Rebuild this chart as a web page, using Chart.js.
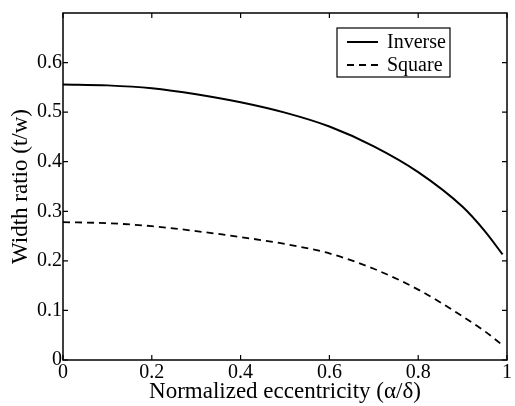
<!DOCTYPE html>
<html>
<head>
<meta charset="utf-8">
<script src="https://cdn.jsdelivr.net/npm/chart.js@4"></script>
<style>
  html, body { margin: 0; padding: 0; background: #fff; }
  #wrap { width: 515px; height: 406px; }
</style>
</head>
<body>
<div id="wrap"><canvas id="widthChart"></canvas></div>
<script>
// eccentricity samples and width ratios for the two loadings
const ecc     = [0, 0.1, 0.2, 0.3, 0.4, 0.5, 0.6, 0.7, 0.8, 0.9, 0.95, 0.99];
const inverse = [0.556, 0.554, 0.548, 0.536, 0.520, 0.499, 0.471, 0.431, 0.379, 0.309, 0.260, 0.213];
const square  = [0.278, 0.276, 0.270, 0.260, 0.248, 0.234, 0.215, 0.184, 0.142, 0.088, 0.058, 0.030];
const xTicks  = [0, 0.2, 0.4, 0.6, 0.8, 1];
const yTicks  = [0, 0.1, 0.2, 0.3, 0.4, 0.5, 0.6];

const serif = "'Liberation Serif', 'Times New Roman', serif";
const pts = ys => ecc.map((x, i) => ({ x: x, y: ys[i] }));

// box round the plot, inward ticks on all sides, boxed legend
const frame = {
  id: 'frame',
  afterDraw(chart) {
    const { ctx, chartArea: a, scales } = chart;
    ctx.save();
    ctx.strokeStyle = '#000';
    ctx.lineWidth = 1.5;
    ctx.strokeRect(a.left, a.top, a.right - a.left, a.bottom - a.top);
    ctx.lineWidth = 1.2;
    ctx.beginPath();
    xTicks.forEach(v => {
      const px = scales.x.getPixelForValue(v);
      ctx.moveTo(px, a.bottom); ctx.lineTo(px, a.bottom - 5);
      ctx.moveTo(px, a.top);    ctx.lineTo(px, a.top + 5);
    });
    yTicks.forEach(v => {
      const py = scales.y.getPixelForValue(v);
      ctx.moveTo(a.left, py);  ctx.lineTo(a.left + 5, py);
      ctx.moveTo(a.right, py); ctx.lineTo(a.right - 5, py);
    });
    ctx.stroke();

    // legend
    const lx = 337, ly = 28, lw = 113, lh = 49;
    ctx.fillStyle = '#fff';
    ctx.fillRect(lx, ly, lw, lh);
    ctx.lineWidth = 1.2;
    ctx.strokeRect(lx, ly, lw, lh);
    chart.data.datasets.forEach((ds, i) => {
      const y = ly + 14 + i * 23;
      ctx.setLineDash(ds.borderDash || []);
      ctx.lineWidth = ds.borderWidth;
      ctx.beginPath();
      ctx.moveTo(lx + 10, y); ctx.lineTo(lx + 41, y);
      ctx.stroke();
      ctx.setLineDash([]);
      ctx.fillStyle = '#000';
      ctx.font = '20px ' + serif;
      ctx.textBaseline = 'middle';
      ctx.fillText(ds.label, lx + 50, y + 1);
    });
    ctx.restore();
  }
};

new Chart(document.getElementById('widthChart'), {
  type: 'line',
  data: {
    datasets: [
      {
        label: 'Inverse',
        data: pts(inverse),
        borderColor: '#000',
        borderWidth: 2,
        pointRadius: 0,
        cubicInterpolationMode: 'monotone'
      },
      {
        label: 'Square',
        data: pts(square),
        borderColor: '#000',
        borderWidth: 1.8,
        borderDash: [7, 5],
        pointRadius: 0,
        cubicInterpolationMode: 'monotone'
      }
    ]
  },
  options: {
    responsive: true,
    maintainAspectRatio: false,
    animation: false,
    layout: { padding: { left: 0, top: 8, right: 8, bottom: 0 } },
    plugins: { legend: { display: false }, tooltip: { enabled: false } },
    scales: {
      x: {
        type: 'linear',
        min: 0, max: 1,
        afterBuildTicks: s => { s.ticks = xTicks.map(v => ({ value: v })); },
        afterFit: s => { s.height = 46; },
        grid: { display: false, drawTicks: false },
        border: { display: false },
        ticks: {
          color: '#000',
          padding: 1,
          maxRotation: 0,
          font: { family: serif, size: 20 },
          callback: v => String(v)
        },
        title: {
          display: true,
          text: 'Normalized eccentricity (\u03b1/\u03b4)',
          color: '#000',
          padding: { top: -3, bottom: 0 },
          font: { family: serif, size: 23 }
        }
      },
      y: {
        min: 0, max: 0.7,
        afterBuildTicks: s => { s.ticks = yTicks.map(v => ({ value: v })); },
        afterFit: s => { s.width = 63; },
        grid: { display: false, drawTicks: false },
        border: { display: false },
        ticks: {
          color: '#000',
          padding: 1,
          font: { family: serif, size: 20 },
          callback: v => String(v)
        },
        title: {
          display: true,
          text: 'Width ratio (t/w)',
          color: '#000',
          padding: { top: 7, bottom: 0 },
          font: { family: serif, size: 23 }
        }
      }
    }
  },
  plugins: [frame]
});
</script>
</body>
</html>
